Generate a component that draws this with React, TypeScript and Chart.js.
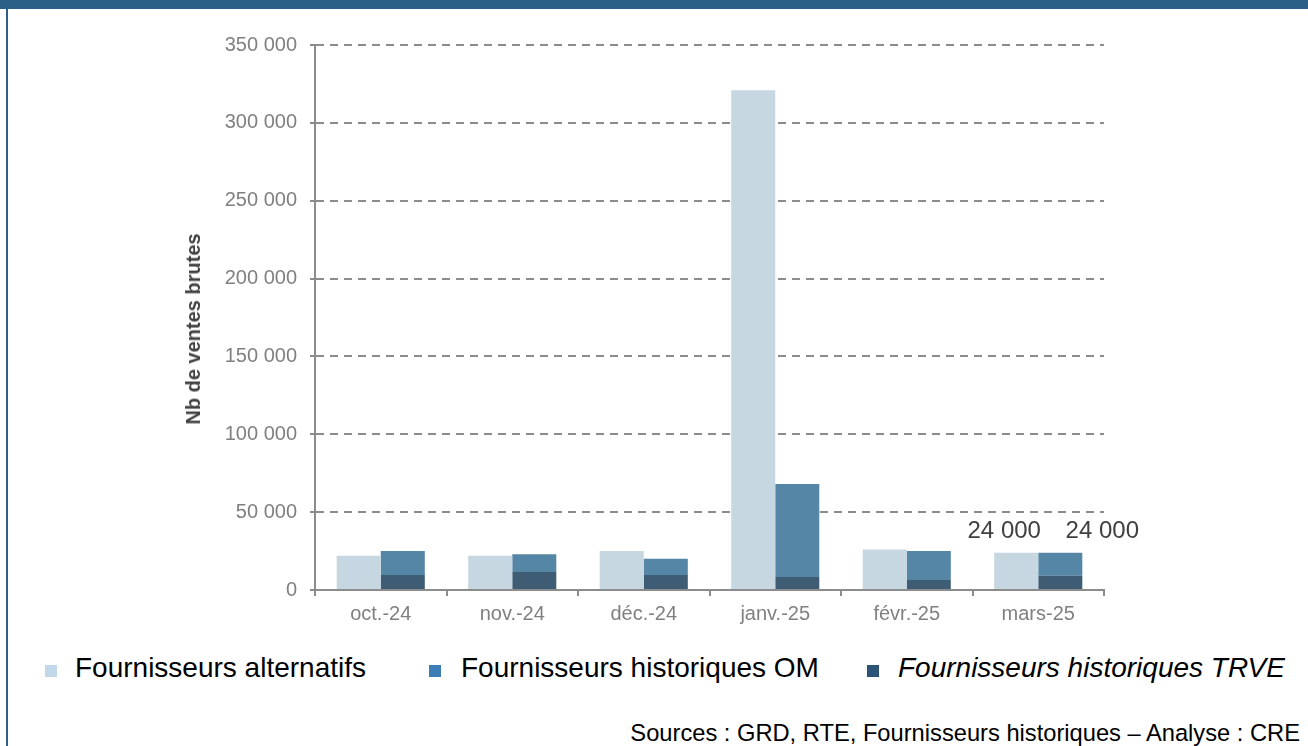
import React, { useEffect, useRef } from 'react';
import { Chart, registerables } from 'chart.js';

Chart.register(...registerables);

const categories = ['oct.-24', 'nov.-24', 'déc.-24', 'janv.-25', 'févr.-25', 'mars-25'];
const alternatifs = [22000, 22000, 25000, 321000, 26000, 24000];
const historiquesTRVE = [9600, 11500, 9600, 8300, 6400, 9200];
const historiquesOM = [15400, 11500, 10400, 59700, 18600, 14800];
const labelledCategories = ['mars-25'];
const yMax = 350000;
const yStep = 50000;

const seriesNames = ['Fournisseurs alternatifs', 'Fournisseurs historiques OM', 'Fournisseurs historiques TRVE'];
const yTitle = 'Nb de ventes brutes';
const sourceText = 'Sources : GRD, RTE, Fournisseurs historiques – Analyse : CRE';
const FONT = '"Liberation Sans", Arial, Helvetica, sans-serif';

const fmt = (v: number) => Math.round(v).toString().replace(/\B(?=(\d{3})+(?!\d))/g, ' ');

export default function App() {
  const ref = useRef<HTMLCanvasElement>(null);

  useEffect(() => {
    if (!ref.current) return;
    const labelPlugin = {
      id: 'valueLabels',
      afterDatasetsDraw(chart: any) {
        const ctx = chart.ctx;
        ctx.save();
        ctx.font = `24px ${FONT}`;
        ctx.fillStyle = '#404040';
        ctx.textAlign = 'center';
        ctx.textBaseline = 'middle';
        categories.forEach((c, i) => {
          if (!labelledCategories.includes(c)) return;
          const altEl = chart.getDatasetMeta(0).data[i];
          const omEl = chart.getDatasetMeta(2).data[i];
          ctx.fillText(fmt(alternatifs[i]), altEl.x - 12, altEl.y - 21);
          ctx.fillText(fmt(historiquesOM[i] + historiquesTRVE[i]), omEl.x + 42, omEl.y - 21);
        });
        ctx.restore();
      },
    };

    const chart = new Chart(ref.current, {
      type: 'bar',
      data: {
        labels: categories,
        datasets: [
          { label: seriesNames[0], data: alternatifs, backgroundColor: '#c6d7e2', stack: 'alt' },
          { label: seriesNames[2], data: historiquesTRVE, backgroundColor: '#3e5d74', stack: 'hist' },
          { label: seriesNames[1], data: historiquesOM, backgroundColor: '#5586a6', stack: 'hist' },
        ],
      },
      options: {
        responsive: false,
        animation: false,
        events: [],
        layout: { padding: { top: 24, right: 73, left: 0, bottom: 0 } },
        datasets: { bar: { categoryPercentage: 0.67, barPercentage: 1.0 } } as any,
        plugins: { legend: { display: false }, tooltip: { enabled: false } },
        scales: {
          x: {
            stacked: true,
            afterFit: (s: any) => { s.height = 60; },
            grid: { display: true, drawOnChartArea: false, drawTicks: true, tickLength: 6, offset: true, color: '#8c8c8c', lineWidth: 2 },
            border: { display: true, color: '#8c8c8c', width: 2 },
            ticks: { color: '#808080', font: { family: FONT, size: 20 }, padding: 6, maxRotation: 0 },
          },
          y: {
            stacked: true,
            min: 0,
            max: yMax,
            afterFit: (s: any) => { s.width = 138; },
            grid: { color: '#8c8c8c', lineWidth: 2, tickLength: 5, drawTicks: true, tickBorderDash: [] } as any,
            border: { display: true, color: '#8c8c8c', width: 2, dash: [8, 6] },
            ticks: {
              stepSize: yStep,
              color: '#808080',
              font: { family: FONT, size: 20 },
              padding: 13,
              callback: (v: any) => fmt(Number(v)),
            },
          },
        },
      },
      plugins: [labelPlugin],
    });
    return () => chart.destroy();
  }, []);

  const legendItems = [
    { name: seriesNames[0], color: '#c0d8ea', sq: 45, tx: 75, italic: false },
    { name: seriesNames[1], color: '#3c7db7', sq: 429, tx: 461, italic: false },
    { name: seriesNames[2], color: '#2d5476', sq: 867, tx: 898, italic: true },
  ];

  return (
    <div style={{ position: 'absolute', left: 0, top: 0, width: 1308, height: 746, background: '#fff', overflow: 'hidden', fontFamily: FONT }}>
      <div style={{ position: 'absolute', left: 0, top: 0, width: 1308, height: 9, background: '#2b5f87' }} />
      <div style={{ position: 'absolute', left: 6, top: 0, width: 2, height: 746, background: '#2b5f87' }} />
      <canvas ref={ref} width={1000} height={630} style={{ position: 'absolute', left: 177, top: 20, width: 1000, height: 630 }} />
      <div style={{ position: 'absolute', left: 193, top: 329, width: 0, height: 0 }}>
        <div style={{ position: 'absolute', left: 0, top: 0, transform: 'translate(-50%, -50%) rotate(-90deg)', fontSize: 20, lineHeight: '24px', fontWeight: 'bold', color: '#404040', whiteSpace: 'nowrap' }}>
          {yTitle}
        </div>
      </div>
      {legendItems.map((it) => (
        <React.Fragment key={it.name}>
          <div style={{ position: 'absolute', left: it.sq, top: 665, width: 12, height: 12, background: it.color }} />
          <div style={{ position: 'absolute', left: it.tx, top: 654, fontSize: 28, lineHeight: '28px', color: '#000', whiteSpace: 'nowrap', fontStyle: it.italic ? 'italic' : 'normal' }}>
            {it.name}
          </div>
        </React.Fragment>
      ))}
      <div style={{ position: 'absolute', right: 8, top: 721, fontSize: 23.7, lineHeight: '24px', color: '#000', whiteSpace: 'nowrap' }}>
        {sourceText}
      </div>
    </div>
  );
}
